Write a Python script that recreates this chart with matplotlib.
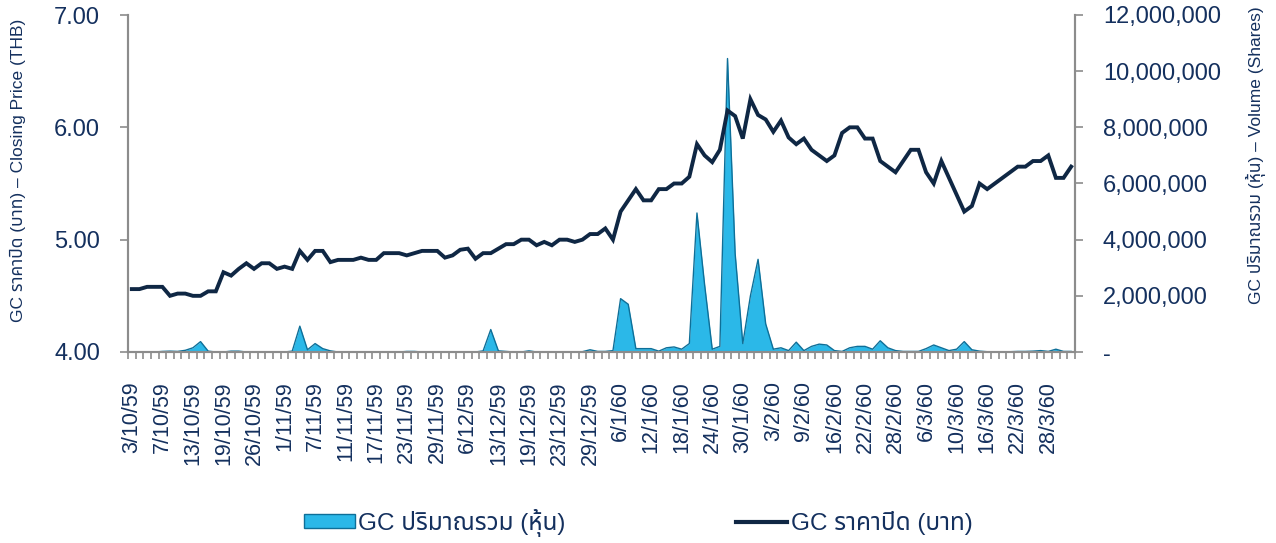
import numpy as np
import matplotlib
matplotlib.use("Agg")
import matplotlib.pyplot as plt
from matplotlib import font_manager
from matplotlib.ft2font import FT2Font
from matplotlib.patches import Patch
from matplotlib.lines import Line2D
from matplotlib.ticker import FuncFormatter, FixedLocator


# -----------------------------------------------------
# data
# -----------------------------------------------------

# closing price (THB), one value per trading day
price = [
    4.56, 4.56, 4.58, 4.58, 4.58, 4.50, 4.52, 4.52, 4.50, 4.50,
    4.54, 4.54, 4.71, 4.68, 4.74, 4.79, 4.74, 4.79, 4.79, 4.74,
    4.76, 4.74, 4.90, 4.82, 4.90, 4.90, 4.80, 4.82, 4.82, 4.82,
    4.84, 4.82, 4.82, 4.88, 4.88, 4.88, 4.86, 4.88, 4.90, 4.90,
    4.90, 4.84, 4.86, 4.91, 4.92, 4.83, 4.88, 4.88, 4.92, 4.96,
    4.96, 5.00, 5.00, 4.95, 4.98, 4.95, 5.00, 5.00, 4.98, 5.00,
    5.05, 5.05, 5.10, 5.00, 5.25, 5.35, 5.45, 5.35, 5.35, 5.45,
    5.45, 5.50, 5.50, 5.56, 5.85, 5.75, 5.69, 5.80, 6.15, 6.10,
    5.90, 6.25, 6.11, 6.07, 5.96, 6.06, 5.91, 5.85, 5.90, 5.80,
    5.75, 5.70, 5.75, 5.95, 6.00, 6.00, 5.90, 5.90, 5.70, 5.65,
    5.60, 5.70, 5.80, 5.80, 5.60, 5.50, 5.70, 5.55, 5.40, 5.25,
    5.30, 5.50, 5.45, 5.50, 5.55, 5.60, 5.65, 5.65, 5.70, 5.70,
    5.75, 5.55, 5.55, 5.65,
]

# traded volume (million shares)
volume_m = [
    0.00, 0.00, 0.00, 0.00, 0.02, 0.03, 0.02, 0.06, 0.15, 0.37,
    0.03, 0.00, 0.00, 0.03, 0.03, 0.00, 0.00, 0.00, 0.00, 0.00,
    0.00, 0.03, 0.92, 0.08, 0.30, 0.12, 0.04, 0.00, 0.00, 0.00,
    0.00, 0.00, 0.00, 0.00, 0.00, 0.00, 0.02, 0.02, 0.00, 0.00,
    0.00, 0.00, 0.00, 0.00, 0.00, 0.00, 0.04, 0.80, 0.04, 0.02,
    0.00, 0.00, 0.04, 0.00, 0.00, 0.00, 0.00, 0.00, 0.00, 0.01,
    0.08, 0.02, 0.02, 0.05, 1.90, 1.70, 0.12, 0.12, 0.12, 0.03,
    0.15, 0.18, 0.10, 0.30, 4.95, 2.40, 0.10, 0.20, 10.45, 3.50,
    0.30, 2.00, 3.30, 1.00, 0.10, 0.15, 0.05, 0.35, 0.05, 0.20,
    0.28, 0.25, 0.05, 0.02, 0.15, 0.20, 0.20, 0.10, 0.40, 0.15,
    0.05, 0.02, 0.02, 0.02, 0.12, 0.25, 0.15, 0.05, 0.10, 0.37,
    0.08, 0.03, 0.01, 0.01, 0.01, 0.01, 0.02, 0.02, 0.03, 0.05,
    0.02, 0.10, 0.02, 0.02,
]

# date labels shown on the axis (every 4th trading day)
tick_labels = [
    "3/10/59", "7/10/59", "13/10/59", "19/10/59", "26/10/59", "1/11/59",
    "7/11/59", "11/11/59", "17/11/59", "23/11/59", "29/11/59", "6/12/59",
    "13/12/59", "19/12/59", "23/12/59", "29/12/59", "6/1/60", "12/1/60",
    "18/1/60", "24/1/60", "30/1/60", "3/2/60", "9/2/60", "16/2/60",
    "22/2/60", "28/2/60", "6/3/60", "10/3/60", "16/3/60", "22/3/60",
    "28/3/60",
]
label_step = 4


# -----------------------------------------------------
# fonts: Arial-like for latin, any Thai-capable font as fallback
# -----------------------------------------------------

def find_thai_font():
    preferred = ["Noto Sans Thai", "Tahoma", "Loma", "Garuda", "Sarabun",
                 "Tlwg Typo", "Kinnari", "Norasi", "Waree", "Umpush"]
    found = {}
    for f in font_manager.fontManager.ttflist:
        try:
            cmap = FT2Font(f.fname).get_charmap()
        except Exception:
            continue
        if 0x0E01 in cmap and 0x0E32 in cmap:
            found.setdefault(f.name, f.fname)
    for name in preferred:
        if name in found:
            return name
    return next(iter(found), None)


thai = find_thai_font()
families = ["Liberation Sans"]
if thai:
    families.append(thai)
families.append("DejaVu Sans")
plt.rcParams["font.family"] = families

navy = "#14305E"
line_col = "#0F2744"
grey = "#8C8C8C"
fill_col = "#2BB8E8"
edge_col = "#0E6F98"


# -----------------------------------------------------
# plot
# -----------------------------------------------------

x = np.arange(len(price))
vol = np.array(volume_m) * 1e6

fig = plt.figure(figsize=(12.76, 5.43), dpi=100)
ax = fig.add_axes([128/1276, 1-352/543, (1075-128)/1276, (352-15)/543])
ax2 = ax.twinx()

# volume area on the right axis, drawn under the price line
ax2.fill_between(x, 0, vol, color=fill_col, lw=0, zorder=2)
ax2.plot(x, vol, color=edge_col, lw=1.0, zorder=3)
ax2.set_ylim(0, 12e6)
ax2.set_yticks(np.arange(0, 12e6 + 1, 2e6))
ax2.yaxis.set_major_formatter(
    FuncFormatter(lambda v, p: "-" if v == 0 else f"{v:,.0f}"))

ax.set_zorder(ax2.get_zorder() + 1)
ax.patch.set_visible(False)
ax.plot(x, price, color=line_col, lw=2.8, solid_joinstyle="miter", zorder=4)
ax.set_ylim(4, 7)
ax.set_yticks([4, 5, 6, 7])
ax.yaxis.set_major_formatter(FuncFormatter(lambda v, p: f"{v:.2f}"))
ax.set_xlim(-0.5, len(price) - 0.5)

# category axis: a short tick between every day, label every 4th day
ax.xaxis.set_major_locator(FixedLocator(np.arange(len(tick_labels)) * label_step))
ax.set_xticklabels(tick_labels, rotation=90, fontsize=15.5, color=navy)
ax.xaxis.set_minor_locator(FixedLocator(np.arange(len(price) + 1) - 0.5))
ax.tick_params(axis="x", which="major", length=0, pad=21)
ax.tick_params(axis="x", which="minor", length=5, width=1.2, color=grey)

ax.tick_params(axis="y", length=6, width=1.2, color=grey, labelsize=17,
               labelcolor=navy, pad=14)
ax2.tick_params(axis="y", length=6, width=1.2, color=grey, labelsize=17,
                labelcolor=navy, pad=14)

for a in (ax, ax2):
    a.spines["top"].set_visible(False)
    for s in ("left", "right", "bottom"):
        a.spines[s].set_color(grey)
        a.spines[s].set_linewidth(1.5)

ax.set_ylabel("GC ราคาปิด (บาท) – Closing Price (THB)", fontsize=12.5, color=navy)
ax.yaxis.set_label_coords(-0.108, 0.54)
ax2.set_ylabel("GC ปริมาณรวม (หุ้น) – Volume (Shares)", fontsize=12.5, color=navy)
ax2.yaxis.set_label_coords(1.181, 0.585)

handles = [
    Patch(facecolor=fill_col, edgecolor=edge_col, linewidth=1),
    Line2D([0], [0], color=line_col, lw=3),
]
fig.legend(handles, ["GC ปริมาณรวม (หุ้น)", "GC ราคาปิด (บาท)"],
           loc="center", bbox_to_anchor=(0.5, 1 - 523/543), ncol=2,
           frameon=False, fontsize=17.5, handlelength=2.1, handleheight=0.5,
           handletextpad=0.15, columnspacing=7.0, labelcolor=navy)

fig.savefig("out.png", dpi=100)
